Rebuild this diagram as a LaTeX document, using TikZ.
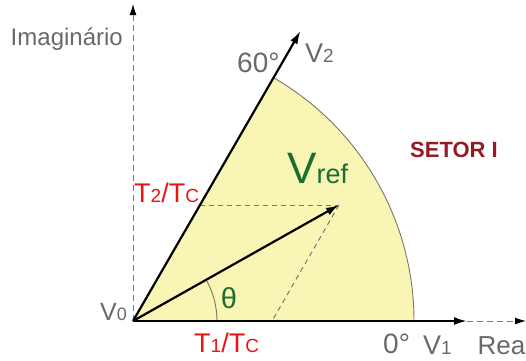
\documentclass[tikz,border=0pt]{standalone}
\usepackage{fontspec}
\setmainfont{Liberation Sans}
\usetikzlibrary{arrows.meta,calc}
\definecolor{sectorfill}{RGB}{249,245,180}
\definecolor{arcline}{RGB}{120,120,100}
\definecolor{axisgray}{RGB}{120,120,120}
\definecolor{txtgray}{RGB}{105,105,105}
\definecolor{vgreen}{RGB}{25,110,50}
\definecolor{tred}{RGB}{235,20,20}
\definecolor{setorred}{RGB}{150,25,35}
\newcommand{\fsz}[1]{\fontsize{#1}{#1}\selectfont}
\tikzset{
  vec/.style={line width=2.2pt, black, -{Latex[length=13pt,width=8pt]}},
  helper/.style={axisgray, line width=1pt, dash pattern=on 5pt off 4pt},
  axisline/.style={axisgray, line width=1pt, dash pattern=on 6pt off 4pt, -{Latex[length=11pt,width=7pt,color=black]}},
  graylbl/.style={text=txtgray, inner sep=0pt},
  redlbl/.style={text=tred, inner sep=0pt},
}
\begin{document}
\begin{tikzpicture}[x=1pt,y=1pt]
\useasboundingbox (0,0) rectangle (526,360);
\coordinate (O) at (133,39);
\coordinate (V1end) at (467,39);
\coordinate (Rend) at (526,39);
\coordinate (Iend) at (133,356);
\coordinate (V2end) at (300.5,329);
\coordinate (Vr) at (339,155);
\coordinate (P2) at (200,155);
\coordinate (P1) at (272,39);
% sector
\fill[sectorfill] (O) -- ++(281,0) arc[start angle=0,end angle=60,radius=281] -- cycle;
\draw[arcline, line width=0.9pt] ($(O)+(281,0)$) arc[start angle=0,end angle=60,radius=281];
% axes
\draw[axisline] (V1end) -- (Rend);
\draw[axisline] (O) -- (Iend);
% helpers
\draw[helper] (P2) -- (Vr);
\draw[helper] (Vr) -- (P1);
% theta arc
\draw[arcline, line width=0.9pt] ($(O)+(84,0)$) arc[start angle=0,end angle=29.4,radius=84];
% vectors
\draw[vec] (O) -- (V1end);
\draw[vec] (O) -- (V2end);
\draw[vec] (O) -- (Vr);
% labels
\node[graylbl, anchor=base east] (lim) at (123,315) {\fsz{24}Imagin\'ario};
\node[graylbl, anchor=base west] (l60) at (237,288) {\fsz{28}60°};
\node[graylbl, anchor=base west] (lv2) at (305,298) {\fsz{27}V{\fsz{19}2}};
\node[graylbl, anchor=base east] (lv0) at (127,40) {\fsz{25}V{\fsz{18}0}};
\node[graylbl, anchor=base west] (l0) at (383,7) {\fsz{28}0°};
\node[graylbl, anchor=base west] (lv1) at (423,6) {\fsz{27}V{\fsz{19}1}};
\node[graylbl, anchor=base east] (lre) at (525.5,6) {\fsz{26}Rea};
\node[redlbl, anchor=base west] (lt2) at (134,158) {\fsz{27}T{\fsz{19}2}/T{\fsz{19}C}};
\node[redlbl, anchor=base west] (lt1) at (194,8) {\fsz{27}T{\fsz{19}1}/T{\fsz{19}C}};
\node[text=vgreen, inner sep=0pt, anchor=base west] (lvr) at (287,177) {\fsz{44}V{\fsz{27}ref}};
\node[text=vgreen, inner sep=0pt] (lth) at (229,62) {\fsz{29}θ};
\node[text=setorred, inner sep=0pt] (lset) at (454,210) {\fsz{22}\bfseries SETOR I};
\end{tikzpicture}
\end{document}
